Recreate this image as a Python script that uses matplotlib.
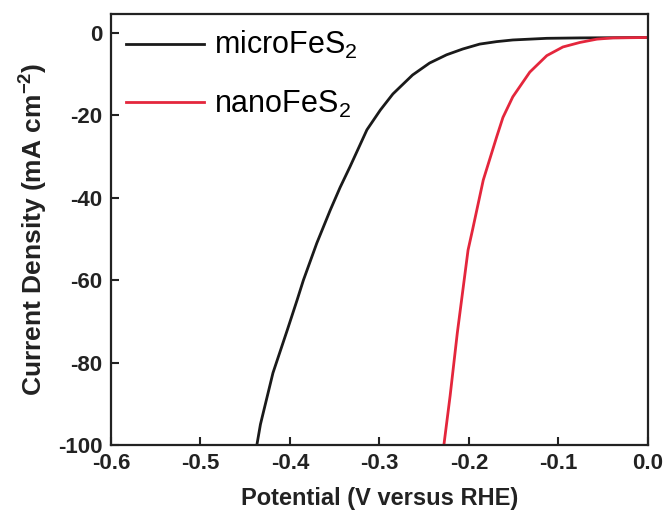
import matplotlib
matplotlib.use("Agg")
import matplotlib.pyplot as plt

plt.rcParams["font.family"] = ["Liberation Sans", "DejaVu Sans"]
plt.rcParams["mathtext.fontset"] = "custom"
plt.rcParams["mathtext.rm"] = "Liberation Sans"
plt.rcParams["mathtext.it"] = "Liberation Sans:italic"
plt.rcParams["mathtext.bf"] = "Liberation Sans:bold"
plt.rcParams["axes.unicode_minus"] = False

# LSV polarization curves (potential in V vs RHE, current density in mA cm^-2)
micro_v = [-0.437, -0.433, -0.431, -0.419, -0.403, -0.392, -0.385, -0.370,
           -0.355, -0.344, -0.333, -0.314, -0.299, -0.285, -0.263, -0.244,
           -0.225, -0.207, -0.188, -0.169, -0.151, -0.132, -0.113, -0.076, 0.0]
micro_j = [-100.0, -95.0, -93.2, -82.5, -72.1, -64.8, -60.0, -51.0,
           -43.0, -37.5, -32.5, -23.5, -18.7, -14.8, -10.2, -7.3,
           -5.3, -3.9, -2.7, -2.1, -1.7, -1.5, -1.3, -1.2, -1.1]

nano_v = [-0.228, -0.221, -0.213, -0.201, -0.196, -0.184, -0.169, -0.162,
          -0.151, -0.132, -0.113, -0.095, -0.076, -0.057, -0.039, 0.0]
nano_j = [-100.0, -88.0, -72.8, -52.7, -47.8, -35.7, -25.2, -20.5,
          -15.5, -9.5, -5.5, -3.4, -2.3, -1.5, -1.2, -1.1]

x_ticks = [-0.6, -0.5, -0.4, -0.3, -0.2, -0.1, 0.0]
y_ticks = [0, -20, -40, -60, -80, -100]

fig = plt.figure(figsize=(6.67, 5.15), dpi=100)
ax = fig.add_axes([0.1664, 0.1359, 0.805, 0.8369])

ax.plot(micro_v, micro_j, color="#1a1a1a", lw=2.0, solid_joinstyle="round",
        label=r"microFeS$_2$")
ax.plot(nano_v, nano_j, color="#e4263c", lw=2.0, solid_joinstyle="round",
        label=r"nanoFeS$_2$")

ax.set_xlim(-0.6, 0.0)
ax.set_ylim(-100, 4.6)
ax.set_xticks(x_ticks)
ax.set_xticklabels([f"{t:.1f}" for t in x_ticks])
ax.set_yticks(y_ticks)

for s in ax.spines.values():
    s.set_linewidth(1.6)
    s.set_color("#222222")
ax.tick_params(direction="in", length=6, width=1.5, labelsize=16, pad=6,
               colors="#222222")
for lbl in ax.get_xticklabels() + ax.get_yticklabels():
    lbl.set_fontweight("bold")

ax.set_xlabel("Potential (V versus RHE)", fontsize=17, fontweight="bold",
              labelpad=9, color="#222222")
ax.set_ylabel(r"Current Density (mA cm$^{\mathbf{-2}}$)", fontsize=19,
              fontweight="bold", labelpad=6, color="#222222")

ax.legend(loc="upper left", bbox_to_anchor=(0.0, 1.0), frameon=False,
          fontsize=22, handlelength=2.55, handletextpad=0.33, labelspacing=0.9,
          borderaxespad=0.05, borderpad=0.45)

fig.savefig("out.png", dpi=100)
